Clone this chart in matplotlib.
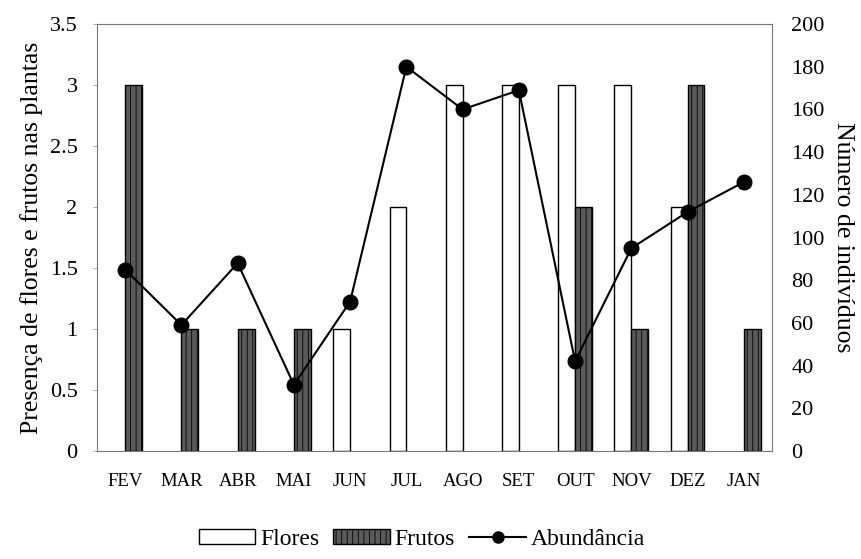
import numpy as np
import matplotlib
matplotlib.use("Agg")
import matplotlib.pyplot as plt
from matplotlib.patches import Patch
from matplotlib.lines import Line2D

months = ["FEV", "MAR", "ABR", "MAI", "JUN", "JUL", "AGO", "SET", "OUT", "NOV", "DEZ", "JAN"]
flores = [0, 0, 0, 0, 1, 2, 3, 3, 3, 3, 2, 0]
frutos = [3, 1, 1, 1, 0, 0, 0, 0, 2, 1, 3, 1]
abundancia = [85, 59, 88, 31, 70, 180, 160, 169, 42, 95, 112, 126]

plt.rcParams["font.family"] = ["Liberation Serif", "DejaVu Serif"]
plt.rcParams["hatch.linewidth"] = 0.6

fig = plt.figure(figsize=(8.61, 5.59), dpi=100)
ax = fig.add_axes([0.1127, 0.1932, 0.7839, 0.7638])

x = np.arange(len(months))
w = 0.30
b1 = ax.bar(x - w / 2, flores, w, color="white", edgecolor="black", lw=1.0)
b2 = ax.bar(x + w / 2, frutos, w, color="#5a5a5a", edgecolor="black", hatch="|||", lw=1.0)
# hide empty bars so no edge line sits on the axis
for rect in list(b1) + list(b2):
    if rect.get_height() == 0:
        rect.set_visible(False)

ax.set_xlim(-0.5, len(months) - 0.5)
ax.set_ylim(0, 3.5)
ax.set_yticks([0, 0.5, 1, 1.5, 2, 2.5, 3, 3.5])
ax.set_yticklabels(["0", "0.5", "1", "1.5", "2", "2.5", "3", "3.5"])
ax.set_xticks(x)
ax.set_xticklabels(months)
ax.tick_params(axis="x", length=0, pad=16, labelsize=13.5)
ax.tick_params(axis="y", length=3, width=0.5, color="#888888", pad=11, labelsize=16)
for s in ax.spines.values():
    s.set_color("#777777")
    s.set_linewidth(0.8)
ax.set_ylabel("Presença de flores e frutos nas plantas", fontsize=18.5, labelpad=5)

ax2 = ax.twinx()
ax2.plot(x, abundancia, color="black", lw=1.5, marker="o", ms=10.5)
ax2.set_ylim(0, 200)
ax2.set_yticks(range(0, 201, 20))
ax2.tick_params(axis="y", length=0, pad=14, labelsize=16)
for s in ax2.spines.values():
    s.set_visible(False)
ax2.set_ylabel("Número de indivíduos", fontsize=18.5, rotation=270, labelpad=21)

handles = [
    Patch(facecolor="white", edgecolor="black", label="Flores"),
    Patch(facecolor="#5a5a5a", edgecolor="black", hatch="|||", label="Frutos"),
    Line2D([0], [0], color="black", lw=1.5, marker="o", ms=8, label="Abundância"),
]
fig.legend(handles=handles, loc="lower center", bbox_to_anchor=(0.49, -0.022), ncol=3,
           frameon=False, fontsize=17, handlelength=2.4, handleheight=0.6,
           handletextpad=0.2, columnspacing=0.6)

fig.savefig("out.png", dpi=100)
